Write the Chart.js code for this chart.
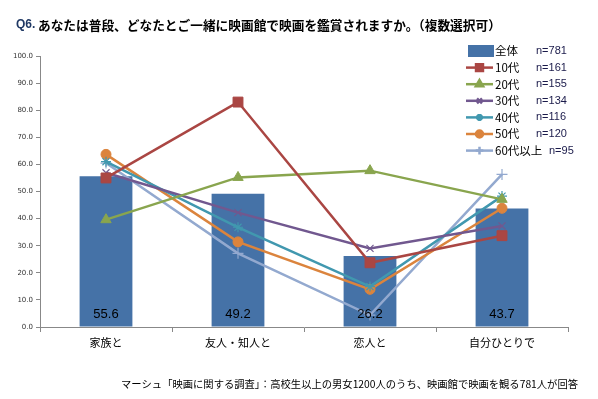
<!DOCTYPE html>
<html>
<head>
<meta charset="utf-8">
<script src="https://cdn.jsdelivr.net/npm/chart.js@4/dist/chart.umd.min.js"></script>
<style>
  html, body { margin: 0; padding: 0; background: #fff; }
  #wrap { width: 598px; height: 399px; position: relative; }
</style>
</head>
<body>
<div id="wrap"><canvas id="movieChart" width="598" height="399"></canvas></div>
<script>
// データ
const categories = ['家族と', '友人・知人と', '恋人と', '自分ひとりで'];
const seriesNames = ['全体', '10代', '20代', '30代', '40代', '50代', '60代以上'];
const sampleSizes = ['n=781', 'n=161', 'n=155', 'n=134', 'n=116', 'n=120', 'n=95'];
const totalAll = [55.6, 49.2, 26.2, 43.7];
const age10 = [55.0, 83.0, 23.7, 33.7];
const age20 = [39.6, 55.2, 57.7, 47.1];
const age30 = [56.9, 42.2, 29.0, 37.3];
const age40 = [61.0, 36.8, 14.9, 48.3];
const age50 = [63.7, 31.4, 13.9, 43.8];
const age60 = [60.5, 27.2, 4.4, 56.3];
const yTicks = [0, 10, 20, 30, 40, 50, 60, 70, 80, 90, 100];

const titleText = 'あなたは普段、どなたとご一緒に映画館で映画を鑑賞されますか。（複数選択可）';
const sourceText = 'マーシュ「映画に関する調査」：高校生以上の男女1200人のうち、映画館で映画を観る781人が回答';

const colors = ['#4572A7', '#AA4643', '#89A54E', '#71588F', '#4198AF', '#DB843D', '#93A9CF'];
const markers = ['rect', 'rect', 'triangle', 'crossRot', 'star', 'circle', 'cross'];
const markerSize = { rect: 7, triangle: 6, crossRot: 5, star: 5, circle: 5, cross: 5.5 };
const lineData = [age10, age20, age30, age40, age50, age60];

const datasets = [{
    type: 'bar',
    label: seriesNames[0],
    data: totalAll,
    backgroundColor: colors[0],
    barPercentage: 0.8,
    categoryPercentage: 0.5,
    order: 10
}];
lineData.forEach((d, i) => {
    const c = colors[i + 1];
    const m = markers[i + 1];
    datasets.push({
        type: 'line',
        label: seriesNames[i + 1],
        data: d,
        borderColor: c,
        backgroundColor: c,
        borderWidth: 2.5,
        pointStyle: m,
        pointRadius: markerSize[m],
        pointBorderWidth: (m === 'crossRot' || m === 'star' || m === 'cross') ? 1.2 : 1,
        pointBorderColor: c,
        pointBackgroundColor: c,
        tension: 0,
        order: 1
    });
});

// タイトル・凡例・注記・棒ラベルを描く
const decoPlugin = {
    id: 'deco',
    afterDatasetsDraw(chart) {
        const ctx = chart.ctx;
        ctx.save();
        // 棒の値
        const barMeta = chart.getDatasetMeta(0);
        ctx.fillStyle = '#000';
        ctx.font = '13px "Liberation Sans", sans-serif';
        ctx.textAlign = 'center';
        ctx.textBaseline = 'middle';
        barMeta.data.forEach((bar, i) => {
            ctx.fillText(totalAll[i].toFixed(1), bar.x, chart.chartArea.bottom - 13);
        });
        ctx.restore();
    },
    afterDraw(chart) {
        const ctx = chart.ctx;
        ctx.save();
        // タイトル
        ctx.textBaseline = 'middle';
        ctx.textAlign = 'left';
        ctx.font = 'bold 12px "Liberation Sans", sans-serif';
        ctx.fillStyle = '#1F3864';
        ctx.fillText('Q6.', 16, 25);
        ctx.font = 'bold 12.7px "Noto Sans CJK JP", sans-serif';
        ctx.fillStyle = '#000';
        ctx.fillText(titleText, 38, 25);

        // 凡例
        const lx = 466, ly0 = 51, step = 16.6;
        seriesNames.forEach((name, i) => {
            const y = ly0 + i * step;
            const c = colors[i];
            if (i === 0) {
                ctx.fillStyle = c;
                ctx.fillRect(lx + 2, y - 6, 26, 12);
            } else {
                ctx.strokeStyle = c;
                ctx.lineWidth = 2.5;
                ctx.beginPath();
                ctx.moveTo(lx, y);
                ctx.lineTo(lx + 27, y);
                ctx.stroke();
                ctx.fillStyle = c;
                Chart.helpers.drawPoint(ctx, {
                    pointStyle: markers[i], radius: markerSize[markers[i]] * 0.7, borderWidth: 1.2, rotation: 0
                }, lx + 13.5, y);
            }
            ctx.fillStyle = '#000';
            ctx.font = '11.5px "Noto Sans CJK JP", sans-serif';
            ctx.textAlign = 'left';
            ctx.fillText(name, lx + 29, y);
            ctx.font = '11px "Liberation Sans", sans-serif';
            ctx.fillStyle = '#1a1a4a';
            ctx.fillText(sampleSizes[i], i === 6 ? 549 : 536, y);
        });

        // 注記
        ctx.font = '10.3px "Noto Sans CJK JP", sans-serif';
        ctx.fillStyle = '#000';
        ctx.textAlign = 'right';
        ctx.fillText(sourceText, 578, 384);
        ctx.restore();
    }
};

new Chart(document.getElementById('movieChart'), {
    data: { labels: categories, datasets: datasets },
    options: {
        responsive: false,
        animation: false,
        layout: { padding: { top: 56, right: 30, bottom: 0, left: 0 } },
        plugins: {
            legend: { display: false },
            tooltip: { enabled: false }
        },
        scales: {
            x: {
                offset: true,
                afterFit: (s) => { s.height = 72; },
                grid: {
                    offset: true,
                    drawOnChartArea: false,
                    drawTicks: true,
                    tickLength: 5,
                    color: '#888'
                },
                border: { color: '#888', width: 1 },
                ticks: {
                    color: '#000',
                    font: { family: '"Noto Sans CJK JP", sans-serif', size: 11 },
                    padding: 4
                }
            },
            y: {
                min: 0,
                max: 100,
                afterFit: (s) => { s.width = 40; },
                afterBuildTicks: (s) => { s.ticks = yTicks.map(v => ({ value: v })); },
                grid: {
                    drawOnChartArea: false,
                    drawTicks: true,
                    tickLength: 4,
                    color: '#888'
                },
                border: { color: '#888', width: 1 },
                ticks: {
                    color: '#333',
                    font: { family: '"DejaVu Sans", sans-serif', size: 7 },
                    padding: 3,
                    callback: (v) => Number(v).toFixed(1)
                }
            }
        }
    },
    plugins: [decoPlugin]
});
</script>
</body>
</html>
